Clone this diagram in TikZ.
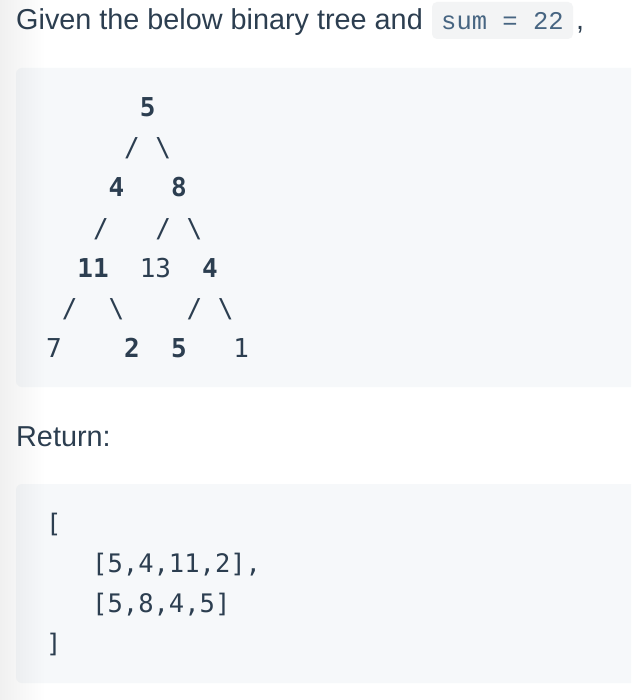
\documentclass[tikz,border=0pt]{standalone}
\usepackage{fontspec}
\setmainfont{Liberation Sans}
\newfontfamily\codefont{DejaVu Sans Mono}
\newfontfamily\inlinefont{Liberation Mono}
\usetikzlibrary{positioning,fadings}
\definecolor{txt}{HTML}{2C3E50}
\definecolor{codebg}{HTML}{F6F8FA}
\definecolor{inlinebg}{HTML}{F3F4F5}
\definecolor{inlinetxt}{HTML}{476582}
\tikzfading[name=fadeleft, left color=transparent!0, right color=transparent!100]

\begin{document}
\begin{tikzpicture}[x=1pt,y=-1pt,
  lbl/.style={anchor=base west,inner sep=0pt,text=txt,font=\fontsize{28.8}{34}\selectfont},
  tn/.style={anchor=base west,inner sep=0pt,text=txt,font=\codefont\fontsize{26}{30}\selectfont},
  tb/.style={anchor=base west,inner sep=0pt,text=txt,font=\codefont\bfseries\fontsize{26}{30}\selectfont},
  rt/.style={anchor=base west,inner sep=0pt,text=txt,font=\codefont\fontsize{25.5}{30}\selectfont},
  codebox/.style={fill=codebg,rounded corners=6pt}]
\useasboundingbox (0,0) rectangle (631,700);
\clip (0,0) rectangle (631,700);
\fill[white] (0,0) rectangle (631,700);
\fill[codebox] (16,68) rectangle (650,387); %tree box
\fill[codebox] (16,484) rectangle (650,683); %return box
\fill[inlinebg,rounded corners=5pt] (432,2) rectangle (573,39); %sum
  %----text----%
  \draw (16,30) node[lbl] (given) {Given the below binary tree and};
  \draw (441,30) node[anchor=base west,inner sep=0pt,text=inlinetxt,font=\inlinefont\fontsize{25.5}{30}\selectfont] (sum) {sum = 22};
  \draw (576,30) node[lbl] (comma) {,};
  \draw (16,446) node[lbl] (ret) {Return:};
  %----row 0----%
  \draw (139.6,117) node[tb] (r5) {5};
  \draw (124,157) node[tn] (s1) {/};
  \draw (155.2,157) node[tn] (s2) {\textbackslash};
  %----row 1----%
  \draw (108.4,197) node[tb] (l4) {4};
  \draw (170.8,197) node[tb] (r8) {8};
  \draw (92.8,237) node[tn] (s3) {/};
  \draw (155.2,237) node[tn] (s4) {/};
  \draw (186.4,237) node[tn] (s5) {\textbackslash};
  %----row 2----%
  \draw (77.2,277) node[tb] (l11) {11};
  \draw (139.6,277) node[tn] (r13) {13};
  \draw (202,277) node[tb] (r4) {4};
  \draw (61.6,317) node[tn] (s6) {/};
  \draw (108.4,317) node[tn] (s7) {\textbackslash};
  \draw (186.4,317) node[tn] (s8) {/};
  \draw (217.6,317) node[tn] (s9) {\textbackslash};
  %----row 3----%
  \draw (46,357) node[tn] (l7) {7};
  \draw (124,357) node[tb] (l2) {2};
  \draw (170.8,357) node[tb] (r5b) {5};
  \draw (233.2,357) node[tn] (r1) {1};
  %----return----%
  \draw (46,532) node[rt] (open) {[};
  \draw (92,572) node[rt] (path1) {[5,4,11,2],};
  \draw (92,612) node[rt] (path2) {[5,8,4,5]};
  \draw (46,652) node[rt] (close) {]};
\fill[black,opacity=0.06,path fading=fadeleft] (0,0) rectangle (45,700); %edge shade
\end{tikzpicture}
\end{document}
